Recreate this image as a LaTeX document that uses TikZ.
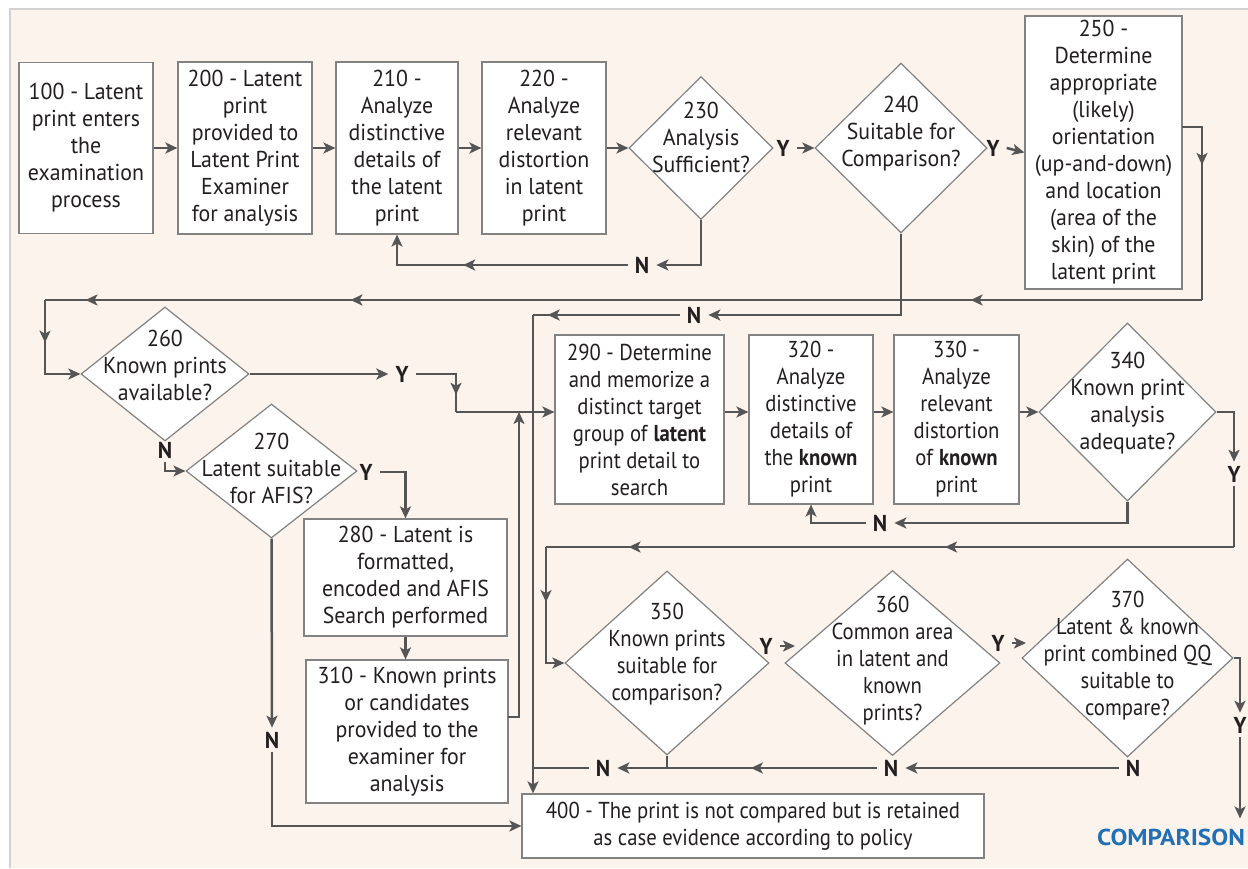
\documentclass[tikz,border=0pt]{standalone}
\usepackage{fontspec}
\setmainfont{PT Sans}[FakeStretch=0.95]
\newfontfamily\narrowfont[FakeStretch=0.9]{PT Sans}
\newfontfamily\widefont[FakeStretch=1.1]{PT Sans}
\usetikzlibrary{shapes.geometric,arrows.meta,decorations.markings}
\definecolor{paper}{RGB}{252,244,236}
\definecolor{frame}{RGB}{210,210,210}
\definecolor{edge}{RGB}{130,130,130}
\definecolor{flow}{RGB}{85,85,85}
\definecolor{ink}{RGB}{35,31,32}
\definecolor{compblue}{RGB}{33,111,181}
\tikzset{flowtip/.tip={Stealth[length=12pt,width=11pt,inset=3pt]}}
\begin{document}
\begin{tikzpicture}[x=1pt,y=-1pt,text=ink,
        font=\fontsize{23}{27}\selectfont,
        narrow/.style={font=\narrowfont\fontsize{23}{27}\selectfont},
        box/.style={draw=edge,line width=1.2pt,fill=white,align=center,inner sep=0pt},
        dia/.style={diamond,draw=edge,line width=1.2pt,fill=white,inner sep=0pt},
        txt/.style={align=center,inner sep=0pt},
        yn/.style={font=\fontsize{23}{27}\selectfont\bfseries,inner xsep=7pt,inner ysep=4pt},
        line/.style={draw=flow,line width=2.5pt},
        arr/.style={line,-flowtip},
        mid/.style={postaction={decorate},decoration={markings,mark=at position #1 with {\arrow{flowtip}}}}]
        \useasboundingbox (0,0) rectangle (1248,869);
        %% Background
        \fill[white] (0,0) rectangle (1248,869);
        \fill[paper] (10,9) rectangle (1248,868);
        \draw[frame,line width=2pt] (10,868) -- (10,9) -- (1248,9);
        %% Top row
        \node[box,minimum width=134pt,minimum height=171pt] (b100) at (86,148) {100 - Latent\\print enters\\the\\examination\\process};
        \node[box,minimum width=134pt,minimum height=172pt] (b200) at (245,148) {200 - Latent\\print\\provided to\\Latent Print\\Examiner\\for analysis};
        \node[box,minimum width=122pt,minimum height=172pt] (b210) at (397,148) {210 -\\Analyze\\distinctive\\details of\\the latent\\print};
        \node[box,minimum width=124pt,minimum height=172pt] (b220) at (544,148) {220 -\\Analyze\\relevant\\distortion\\in latent\\print};
        \node[dia,minimum width=144pt,minimum height=143pt] (d230) at (701,148) {};
        \node[txt] (t230) at (701,137) {230\\Analysis\\Sufficient?};
        \node[yn] (y230) at (783,148) {Y};
        \node[dia,minimum width=172pt,minimum height=170pt] (d240) at (901,148) {};
        \node[txt] (t240) at (901,134) {240\\Suitable for\\Comparison?};
        \node[yn] (y240) at (993,148) {Y};
        \node[box,minimum width=157pt,minimum height=273pt] (b250) at (1103.5,152.5) {250 -\\Determine\\appropriate\\(likely)\\orientation\\(up-and-down)\\and location\\(area of the\\skin) of the\\latent print};
        \node[yn] (n230) at (642,265) {N};
        \node[yn] (n240) at (694,315) {N};
        %% Left column
        \node[dia,minimum width=168pt,minimum height=134pt] (d260) at (165,374) {};
        \node[txt] (t260) at (165,365) {260\\Known prints\\available?};
        \node[yn] (y260) at (402,374) {Y};
        \node[yn] (n260) at (165,450) {N};
        \node[dia,minimum width=171pt,minimum height=134pt] (d270) at (271.5,471) {};
        \node[txt] (t270) at (271.5,468) {270\\Latent suitable\\for AFIS?};
        \node[yn] (y270) at (366,472) {Y};
        \node[yn] (n270) at (272,740) {N};
        \node[box,minimum width=203pt,minimum height=117pt] (b280) at (405.5,577.5) {280 - Latent is\\formatted,\\encoded and AFIS\\Search performed};
        \node[box,minimum width=202pt,minimum height=143pt] (b310) at (407,731.5) {310 - Known prints\\or candidates\\provided to the\\examiner for\\analysis};
        %% Middle row
        \node[box,narrow,minimum width=169pt,minimum height=169pt] (b290) at (639.5,419.5) {290 - Determine\\and memorize a\\distinct target\\group of \textbf{latent}\\print detail to\\search};
        \node[box,narrow,minimum width=124pt,minimum height=169pt] (b320) at (811,419.5) {320 -\\Analyze\\distinctive\\details of\\the \textbf{known}\\print};
        \node[box,narrow,minimum width=125pt,minimum height=169pt] (b330) at (956.5,419.5) {330 -\\Analyze\\relevant\\distortion\\of \textbf{known}\\print};
        \node[dia,minimum width=177pt,minimum height=178pt] (d340) at (1127.5,412) {};
        \node[txt] (t340) at (1127.5,403) {340\\Known print\\analysis\\adequate?};
        \node[yn] (y340) at (1234,474) {Y};
        \node[yn] (n340) at (880,523) {N};
        %% Bottom row
        \node[dia,minimum width=204pt,minimum height=184pt] (d350) at (667,663) {};
        \node[txt,narrow] (t350) at (667,654) {350\\Known prints\\suitable for\\comparison?};
        \node[yn] (y350) at (766,646) {Y};
        \node[dia,minimum width=215pt,minimum height=185pt] (d360) at (892.5,663) {};
        \node[txt,narrow] (t360) at (892.5,661) {360\\Common area\\in latent and\\known\\prints?};
        \node[yn] (y360) at (998,643) {Y};
        \node[dia,minimum width=211pt,minimum height=198pt] (d370) at (1127.5,658) {};
        \node[txt,narrow] (t370) at (1127.5,656) {370\\Latent \& known\\print combined QQ\\suitable to\\compare?};
        \node[yn] (y370) at (1240,725) {Y};
        \node[yn] (n350) at (603,768) {N};
        \node[yn] (n360) at (891,768) {N};
        \node[yn] (n370) at (1133,768) {N};
        \node[box,narrow,minimum width=462pt,minimum height=64pt] (b400) at (753,826) {400 - The print is not compared but is retained\\as case evidence according to policy};
        \node[font=\widefont\fontsize{23}{27}\selectfont\bfseries,text=compblue,anchor=west,inner xsep=0pt,inner ysep=10pt] (cmp) at (1097,837) {COMPARISON};
        %% Turning points
        \coordinate (c250) at (1182,127);
        \coordinate (k250) at (1202,300);
        \coordinate (k260) at (45,300);
        \coordinate (k290) at (456,412);
        \coordinate (j290) at (519,412);
        \coordinate (c310) at (508,717);
        \coordinate (k400) at (533,315);
        \coordinate (k350a) at (1234,547);
        \coordinate (k350b) at (546,547);
        \coordinate (a360) at (795,646);
        \coordinate (a370) at (1026,643);
        %% Connectors, top row
        \draw[arr] (b100.east) -- (b200.west);
        \draw[arr] (b200.east) -- (b210.west);
        \draw[arr] (b210.east) -- (b220.west);
        \draw[arr] (b220.east) -- (d230.west);
        \draw[arr] (y230.east) -- (d240.west);
        \draw[arr] (y240.east) -- (b250.west);
        \draw[arr] (d230.south) |- (n230.east);
        \draw[arr,mid=0.63] (n230.west) -| (b210.south);
        \draw[arr] (d240.south) |- (n240.east);
        \draw[line,mid=0.9] (n240.west) -- (k400);
        \draw[arr] (k400) -- (k400 |- b400.north);
        %% 250 back to 260
        \draw[line,mid=0.3] (c250) -| (k250);
        \draw[line,postaction={decorate},decoration={markings,
                mark=at position 0.2 with {\arrow{flowtip}},
                mark=at position 0.736 with {\arrow{flowtip}},
                mark=at position 0.965 with {\arrow{flowtip}}}] (k250) -- (k260);
        \draw[arr,mid=0.39] (k260) |- (d260.west);
        %% Left column
        \draw[arr] (d260.east) -- (y260.west);
        \draw[line,mid=0.78] (y260.east) -| (k290);
        \draw[arr] (k290) -- (b290.west |- k290);
        \draw[arr,line width=1.5pt] (n260.south) |- (d270.west);
        \draw[arr] (y270.east) -| (b280.north);
        \draw[arr] (d270.south) -- (n270.north);
        \draw[arr] (n270.south) |- (b400.west);
        \draw[arr] (b280.south) -- (b280.south |- b310.north);
        \draw[arr] (c310) -| (j290);
        %% Middle row
        \draw[arr] (b290.east |- k290) -- (b320.west |- k290);
        \draw[arr] (b320.east |- k290) -- (b330.west |- k290);
        \draw[arr] (b330.east |- k290) -- (d340.west);
        \draw[arr] (d340.east) -| (y340.north);
        \draw[line] (y340.south) -- (k350a);
        \draw[line,postaction={decorate},decoration={markings,
                mark=at position 0.42 with {\arrow{flowtip}},
                mark=at position 0.88 with {\arrow{flowtip}}}] (k350a) -- (k350b);
        \draw[arr,mid=0.41] (k350b) |- (d350.west);
        \draw[arr] (d340.south) |- (n340.east);
        \draw[arr] (n340.west) -| (b320.south);
        %% Bottom row
        \draw[arr] (y350.east) -- (a360);
        \draw[arr] (y360.east) -- (a370);
        \draw[arr] (d370.east) -| (y370.north);
        \draw[arr] (y370.south) -- (y370.south |- cmp.north);
        \draw[arr] (n370.west) -- (n360.east);
        \draw[line] (d350.south) -- (d350.south |- n350);
        \draw[line,mid=0.6] (n360.west) -- (d350.south |- n350);
        \draw[arr] (d350.south |- n350) -- (n350.east);
        \draw[line] (n350.west) -- (n350.west -| k400);
\end{tikzpicture}
\end{document}
